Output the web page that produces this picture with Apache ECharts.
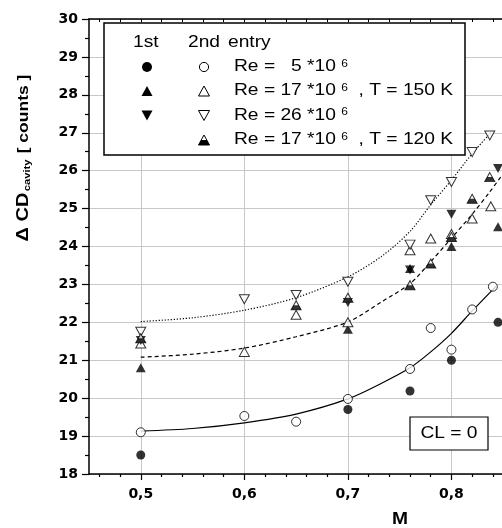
<!DOCTYPE html>
<html lang="en">
<head>
    <meta charset="UTF-8">
    <title>CD cavity vs M</title>
    <script src="https://cdn.jsdelivr.net/npm/echarts@6/dist/echarts.min.js"></script>
    <style>
        html, body { margin: 0; padding: 0; background: #ffffff; }
        #main { width: 502px; height: 528px; }
    </style>
</head>
<body>
<div id="main"></div>
<script>
    // 1st entry (filled symbols)
    var re5First = [[0.5, 18.5], [0.7, 19.7], [0.76, 20.19], [0.8, 21.0], [0.845, 22.0]];
    var re17T150First = [[0.5, 20.8], [0.7, 21.82], [0.76, 23.42], [0.8, 24.0], [0.845, 24.52]];
    var re26First = [[0.5, 21.52], [0.7, 22.52], [0.76, 23.38], [0.8, 24.85], [0.845, 26.06]];
    // 2nd entry (open symbols)
    var re5Second = [[0.5, 19.1], [0.6, 19.53], [0.65, 19.38], [0.7, 19.98], [0.76, 20.77], [0.78, 21.85], [0.8, 21.28], [0.82, 22.34], [0.84, 22.94]];
    var re17T150Second = [[0.5, 21.44], [0.6, 21.22], [0.65, 22.2], [0.7, 22.0], [0.76, 23.9], [0.78, 24.21], [0.8, 24.33], [0.82, 24.74], [0.838, 25.06]];
    var re26Second = [[0.5, 21.75], [0.6, 22.61], [0.65, 22.72], [0.7, 23.07], [0.76, 24.05], [0.78, 25.22], [0.8, 25.7], [0.82, 26.49], [0.837, 26.93]];
    var re17T120Second = [[0.5, 21.58], [0.65, 22.45], [0.7, 22.65], [0.76, 22.98], [0.78, 23.55], [0.8, 24.25], [0.82, 25.26], [0.837, 25.83]];
    // fitted curves
    var fitRe5 = [[0.5, 19.13], [0.55, 19.2], [0.6, 19.35], [0.65, 19.58], [0.7, 19.98], [0.733, 20.4], [0.76, 20.8], [0.78, 21.22], [0.8, 21.71], [0.82, 22.3], [0.843, 22.95]];
    var fitRe17 = [[0.5, 21.08], [0.55, 21.16], [0.6, 21.32], [0.65, 21.62], [0.7, 22.01], [0.733, 22.55], [0.76, 23.02], [0.78, 23.6], [0.8, 24.22], [0.82, 24.85], [0.837, 25.44], [0.848, 25.85]];
    var fitRe26 = [[0.5, 22.02], [0.55, 22.12], [0.6, 22.32], [0.65, 22.65], [0.7, 23.2], [0.733, 23.75], [0.76, 24.4], [0.78, 25.1], [0.8, 25.75], [0.82, 26.45], [0.838, 27.0]];
    // ticks
    var xMajorTicks = [0.5, 0.6, 0.7, 0.8, 0.9];
    var xMinorTicks = [0.46, 0.48, 0.52, 0.54, 0.56, 0.58, 0.62, 0.64, 0.66, 0.68, 0.72, 0.74, 0.76, 0.78, 0.82, 0.84, 0.86, 0.88];
    var legendRows = ['Re =   5 *10 {sup|6}', 'Re = 17 *10 {sup|6}  , T = 150 K', 'Re = 26 *10 {sup|6}', 'Re = 17 *10 {sup|6}  , T = 120 K'];

    var FONT = '"Liberation Sans", Arial, sans-serif';
    var halfPath = 'path://M2.5,0 L7.5,0 L10,5 L0,5 Z';

    function tri(cx, cy, down) {
        var w = 5.5, h = 5;
        if (down) return [[cx - w, cy - h], [cx + w, cy - h], [cx, cy + h]];
        return [[cx - w, cy + h], [cx + w, cy + h], [cx, cy - h]];
    }

    function legendGraphics() {
        var els = [];
        els.push({type: 'rect', z: 10, shape: {x: 104, y: 23, width: 361, height: 132},
            style: {fill: '#fff', stroke: '#000', lineWidth: 1.5}});
        var head = [['1st', 133], ['2nd', 188], ['entry', 228]];
        head.forEach(function (h) {
            els.push({type: 'text', z: 11, x: h[1], y: 42.5, scaleX: 1.2,
                style: {text: h[0], fill: '#000', font: '16px ' + FONT, verticalAlign: 'middle'}});
        });
        var rowY = [67, 91, 115.5, 140];
        var c1 = 147, c2 = 204;
        // row 1: circles
        els.push({type: 'circle', z: 11, shape: {cx: c1, cy: rowY[0], r: 5}, style: {fill: '#000'}});
        els.push({type: 'circle', z: 11, shape: {cx: c2, cy: rowY[0], r: 4.6}, style: {fill: '#fff', stroke: '#000', lineWidth: 1}});
        // row 2: up triangles
        els.push({type: 'polygon', z: 11, shape: {points: tri(c1, rowY[1], false)}, style: {fill: '#000'}});
        els.push({type: 'polygon', z: 11, shape: {points: tri(c2, rowY[1], false)}, style: {fill: '#fff', stroke: '#000', lineWidth: 1}});
        // row 3: down triangles
        els.push({type: 'polygon', z: 11, shape: {points: tri(c1, rowY[2], true)}, style: {fill: '#000'}});
        els.push({type: 'polygon', z: 11, shape: {points: tri(c2, rowY[2], true)}, style: {fill: '#fff', stroke: '#000', lineWidth: 1}});
        // row 4: half filled
        els.push({type: 'polygon', z: 11, shape: {points: tri(c2, rowY[3], false)}, style: {fill: '#fff', stroke: '#000', lineWidth: 1}});
        els.push({type: 'polygon', z: 12, shape: {points: [[c2 - 2.75, rowY[3]], [c2 + 2.75, rowY[3]], [c2 + 5.5, rowY[3] + 5], [c2 - 5.5, rowY[3] + 5]]}, style: {fill: '#000'}});
        legendRows.forEach(function (t, i) {
            els.push({type: 'text', z: 11, x: 234, y: rowY[i], scaleX: 1.2,
                style: {text: t, fill: '#000', font: '16px ' + FONT, verticalAlign: 'middle',
                    rich: {sup: {fontSize: 10, fontFamily: 'Liberation Sans', verticalAlign: 'top', fill: '#000'}}}});
        });
        // CL box
        els.push({type: 'rect', z: 10, shape: {x: 410, y: 417, width: 78, height: 33},
            style: {fill: '#fff', stroke: '#000', lineWidth: 1.2}});
        els.push({type: 'text', z: 11, x: 449, y: 433.5, scaleX: 1.2,
            style: {text: 'CL = 0', fill: '#000', font: '16px ' + FONT, align: 'center', verticalAlign: 'middle'}});
        // axis titles
        els.push({type: 'text', z: 11, x: 400, y: 520, scaleX: 1.2,
            style: {text: 'M', fill: '#000', font: 'bold 16px ' + FONT, align: 'center', verticalAlign: 'middle'}});
        els.push({type: 'text', z: 11, x: 24, y: 158, rotation: Math.PI / 2, scaleX: 1.25,
            style: {text: '{a|Δ CD}{s|cavity}{b| [ counts ]}', align: 'center', verticalAlign: 'middle',
                rich: {
                    a: {fontSize: 16, fontWeight: 'bold', fontFamily: 'Liberation Sans', fill: '#000', verticalAlign: 'middle'},
                    s: {fontSize: 9, fontWeight: 'bold', fontFamily: 'Liberation Sans', fill: '#000', verticalAlign: 'bottom', padding: [0, 1, 0, 1]},
                    b: {fontSize: 14, fontWeight: 'bold', fontFamily: 'Liberation Sans', fill: '#000', verticalAlign: 'middle'}
                }}});
        return els;
    }

    function fitLine(data, type) {
        return {type: 'line', data: data, smooth: 0.3, showSymbol: false, silent: true, z: 2,
            lineStyle: {color: '#000', width: 1.2, type: type}};
    }

    function pts(data, symbol, filled, rotate) {
        return {type: 'scatter', data: data, symbol: symbol, z: 3,
            symbolSize: symbol === 'circle' ? 9 : [10, 9], symbolRotate: rotate || 0,
            itemStyle: filled ? {color: '#000'} : {color: '#fff', borderColor: '#000', borderWidth: 1}};
    }

    var myChart = echarts.init(document.getElementById('main'));
    var option = {
        backgroundColor: '#ffffff',
        animation: false,
        grid: {left: 89, top: 19, width: 466, height: 455, containLabel: false, outerBoundsMode: 'none'},
        xAxis: [{
            type: 'value', min: 0.45, max: 0.9,
            axisLine: {lineStyle: {color: '#000', width: 1.5}},
            axisTick: {customValues: xMajorTicks, length: 6, lineStyle: {color: '#000', width: 1.2}},
            axisLabel: {customValues: xMajorTicks, margin: 13, color: '#000', fontWeight: 'bold', fontSize: 14,
                fontFamily: 'DejaVu Sans', formatter: function (v) { return v.toFixed(1).replace('.', ','); }},
            splitLine: {show: true, lineStyle: {color: '#c8c8c8', width: 1}}
        }, {
            type: 'value', min: 0.45, max: 0.9, position: 'bottom',
            axisLine: {show: false},
            axisTick: {customValues: xMinorTicks, length: 3, lineStyle: {color: '#000', width: 1.2}},
            axisLabel: {show: false}, splitLine: {show: false}
        }, {
            type: 'value', min: 0.45, max: 0.9, position: 'top',
            axisLine: {lineStyle: {color: '#000', width: 1.5}},
            axisTick: {customValues: xMinorTicks.concat(xMajorTicks), inside: true, length: 3, lineStyle: {color: '#000', width: 1}},
            axisLabel: {show: false}, splitLine: {show: false}
        }],
        yAxis: {
            type: 'value', min: 18, max: 30, interval: 1,
            axisLine: {show: true, lineStyle: {color: '#000', width: 1.5}},
            axisTick: {show: true, length: 7, lineStyle: {color: '#000', width: 1.2}},
            minorTick: {show: true, splitNumber: 2, length: 4, lineStyle: {color: '#000', width: 1.2}},
            axisLabel: {margin: 11, color: '#000', fontWeight: 'bold', fontSize: 14, fontFamily: 'DejaVu Sans'},
            splitLine: {show: true, lineStyle: {color: '#c8c8c8', width: 1}}
        },
        series: [
            fitLine(fitRe5, 'solid'),
            fitLine(fitRe17, [4, 3]),
            fitLine(fitRe26, [1.2, 1.8]),
            pts(re5First, 'circle', true),
            pts(re5Second, 'circle', false),
            pts(re17T150First, 'triangle', true),
            pts(re17T150Second, 'triangle', false),
            pts(re26First, 'triangle', true, 180),
            pts(re26Second, 'triangle', false, 180),
            pts(re17T120Second, 'triangle', false),
            {type: 'scatter', data: re17T120Second, symbol: halfPath, symbolSize: [10, 4.5], symbolOffset: [0, 2.25], z: 4,
                itemStyle: {color: '#000'}}
        ],
        graphic: legendGraphics()
    };
    myChart.setOption(option);
</script>
</body>
</html>
